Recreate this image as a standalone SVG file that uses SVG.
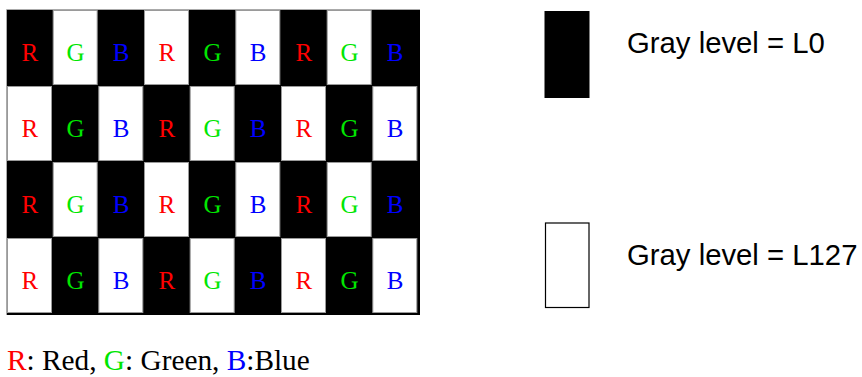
<svg xmlns="http://www.w3.org/2000/svg" width="862" height="377" viewBox="0 0 862 377">
<style>
.cw{fill:#fff;stroke:#9a9a9a;stroke-width:1}
.lt{font-family:"Liberation Serif","Times New Roman",serif;font-size:25px;text-anchor:middle}
.r{fill:#ff0000}.g{fill:#00e600}.b{fill:#0000ff}
.lbl{font-family:"Liberation Sans",Arial,sans-serif;font-size:29.3px;fill:#000}
.leg{font-family:"Liberation Serif","Times New Roman",serif;font-size:29.3px;fill:#000}
</style>
<rect width="862" height="377" fill="#fff"/>
<g id="grid">
<rect x="7" y="10" width="413" height="305" fill="#000"/>
<path d="M6.5 315V9.5H420" fill="none" stroke="#aaa" stroke-width="1"/>
<g id="white-cells">
<rect class="cw" x="53.17" y="10.5" width="44" height="74"/>
<rect class="cw" x="144.5" y="10.5" width="44" height="74"/>
<rect class="cw" x="235.83" y="10.5" width="44" height="74"/>
<rect class="cw" x="327.17" y="10.5" width="44" height="74"/>
<rect class="cw" x="7.5" y="86.5" width="44" height="74"/>
<rect class="cw" x="98.83" y="86.5" width="44" height="74"/>
<rect class="cw" x="190.17" y="86.5" width="44" height="74"/>
<rect class="cw" x="281.5" y="86.5" width="44" height="74"/>
<rect class="cw" x="372.83" y="86.5" width="44" height="74"/>
<rect class="cw" x="53.17" y="162.5" width="44" height="74"/>
<rect class="cw" x="144.5" y="162.5" width="44" height="74"/>
<rect class="cw" x="235.83" y="162.5" width="44" height="74"/>
<rect class="cw" x="327.17" y="162.5" width="44" height="74"/>
<rect class="cw" x="7.5" y="238.5" width="44" height="74"/>
<rect class="cw" x="98.83" y="238.5" width="44" height="74"/>
<rect class="cw" x="190.17" y="238.5" width="44" height="74"/>
<rect class="cw" x="281.5" y="238.5" width="44" height="74"/>
<rect class="cw" x="372.83" y="238.5" width="44" height="74"/>
</g>
<g id="letters" class="lt">
<text class="r" x="29.8" y="61">R</text><text class="g" x="75.5" y="61">G</text><text class="b" x="121.2" y="61">B</text><text class="r" x="166.8" y="61">R</text><text class="g" x="212.5" y="61">G</text><text class="b" x="258.2" y="61">B</text><text class="r" x="303.8" y="61">R</text><text class="g" x="349.5" y="61">G</text><text class="b" x="395.2" y="61">B</text>
<text class="r" x="29.8" y="137">R</text><text class="g" x="75.5" y="137">G</text><text class="b" x="121.2" y="137">B</text><text class="r" x="166.8" y="137">R</text><text class="g" x="212.5" y="137">G</text><text class="b" x="258.2" y="137">B</text><text class="r" x="303.8" y="137">R</text><text class="g" x="349.5" y="137">G</text><text class="b" x="395.2" y="137">B</text>
<text class="r" x="29.8" y="213">R</text><text class="g" x="75.5" y="213">G</text><text class="b" x="121.2" y="213">B</text><text class="r" x="166.8" y="213">R</text><text class="g" x="212.5" y="213">G</text><text class="b" x="258.2" y="213">B</text><text class="r" x="303.8" y="213">R</text><text class="g" x="349.5" y="213">G</text><text class="b" x="395.2" y="213">B</text>
<text class="r" x="29.8" y="289">R</text><text class="g" x="75.5" y="289">G</text><text class="b" x="121.2" y="289">B</text><text class="r" x="166.8" y="289">R</text><text class="g" x="212.5" y="289">G</text><text class="b" x="258.2" y="289">B</text><text class="r" x="303.8" y="289">R</text><text class="g" x="349.5" y="289">G</text><text class="b" x="395.2" y="289">B</text>
</g>
</g>
<g id="key-l0">
<rect x="544.5" y="11" width="45" height="87" fill="#000"/>
<text class="lbl" x="627" y="53">Gray level = L0</text>
</g>
<g id="key-l127">
<rect x="545.5" y="223" width="43.5" height="84.5" fill="#fff" stroke="#000" stroke-width="1.2"/>
<text class="lbl" x="627" y="265">Gray level = L127</text>
</g>
<g id="legend">
<text class="leg" x="7" y="370"><tspan fill="#ff0000">R</tspan>: Red, <tspan fill="#00e600">G</tspan>: Green, <tspan fill="#0000ff">B</tspan>:Blue</text>
</g>
</svg>
